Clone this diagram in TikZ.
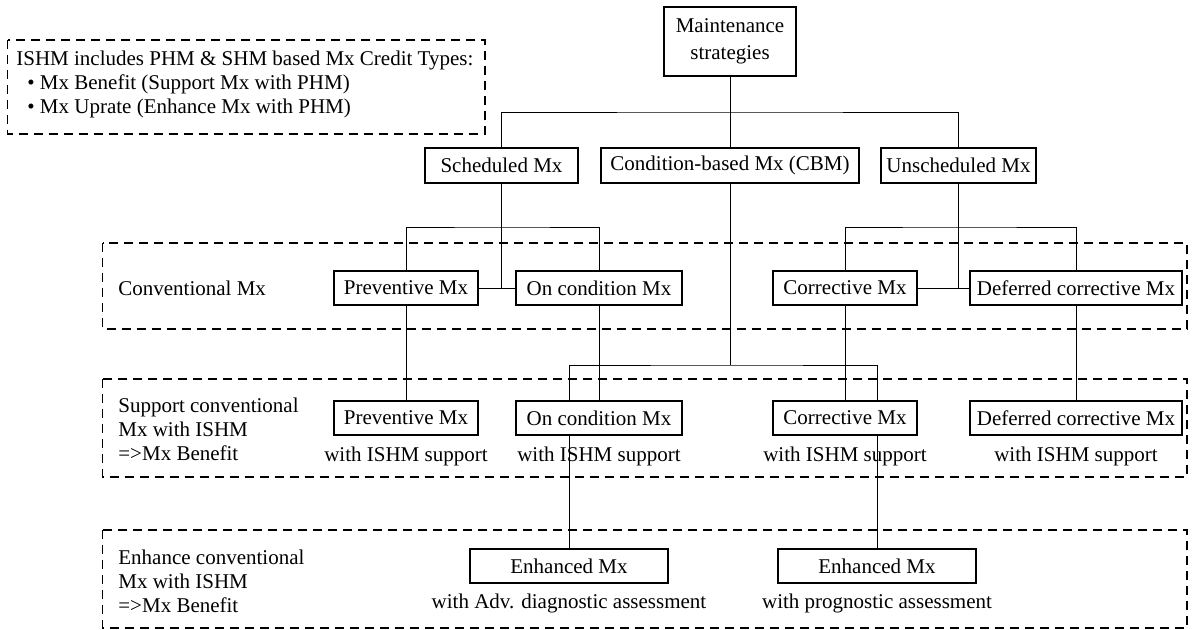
\documentclass[tikz,border=0pt]{standalone}
\usepackage{fontspec}
\setmainfont{Liberation Serif}
\usetikzlibrary{backgrounds}
\tikzset{
  box/.style={draw, line width=0.85pt, fill=white, inner sep=0pt, align=center,
              font=\fontsize{10.5}{13.5}\selectfont},
  txt/.style={inner sep=0pt, font=\fontsize{10.5}{12}\selectfont},
  lbl/.style={txt, anchor=west, align=left},
  link/.style={line width=0.85pt},
  group/.style={line width=0.75pt, dash pattern=on 4.5pt off 3pt}
}
\begin{document}
\begin{tikzpicture}[x=0.5pt,y=-0.5pt]
\useasboundingbox (0,0) rectangle (1196,630);

% dashed group frames
\draw[group] (7.7,40) rectangle (485,134);
\draw[group] (102.6,243) rectangle (1187,329);
\draw[group] (102.6,379) rectangle (1187,477);
\draw[group] (102.6,530) rectangle (1187,628);

% legend
\node[lbl, anchor=north west] (legend) at (16,51)
  {ISHM includes PHM \& SHM based Mx Credit Types:\\
   \hspace*{5.5pt}\textbullet\ Mx Benefit (Support Mx with PHM)\\
   \hspace*{5.5pt}\textbullet\ Mx Uprate (Enhance Mx with PHM)};

% row labels
\node[lbl] (lconv) at (118,288) {Conventional Mx};
\node[lbl] (lsup) at (118,429) {Support conventional\\Mx with ISHM\\=\textgreater Mx Benefit};
\node[lbl] (lenh) at (118,581) {Enhance conventional\\Mx with ISHM\\=\textgreater Mx Benefit};

% top level
\node[box, minimum width=66pt, minimum height=34.5pt] (ms) at (730,41.5) {Maintenance\\strategies};
\node[box, minimum width=76.5pt, minimum height=17.5pt] (sched) at (501.5,165.5) {Scheduled Mx};
\node[box, minimum width=129pt, minimum height=17.5pt] (cbm) at (730,165.5) {Condition-based Mx (CBM)};
\node[box, minimum width=77.5pt, minimum height=17.5pt] (unsched) at (958.5,165.5) {Unscheduled Mx};

% conventional maintenance
\node[box, minimum width=72pt, minimum height=17pt] (prev) at (406,288) {Preventive Mx};
\node[box, minimum width=83pt, minimum height=17pt] (oncond) at (599,288) {On condition Mx};
\node[box, minimum width=72pt, minimum height=17pt] (corr) at (845,288) {Corrective Mx};
\node[box, minimum width=106pt, minimum height=17pt] (def) at (1076,288) {Deferred corrective Mx};

% supported maintenance
\node[box, minimum width=72pt, minimum height=17pt] (prev2) at (406,418) {Preventive Mx};
\node[box, minimum width=83pt, minimum height=17pt] (oncond2) at (599,418) {On condition Mx};
\node[box, minimum width=72pt, minimum height=17pt] (corr2) at (845,418) {Corrective Mx};
\node[box, minimum width=106pt, minimum height=17pt] (def2) at (1076,418) {Deferred corrective Mx};
\node[txt] (sprev) at (406,456) {with ISHM support};
\node[txt] (soncond) at (599,456) {with ISHM support};
\node[txt] (scorr) at (845,456) {with ISHM support};
\node[txt] (sdef) at (1076,456) {with ISHM support};

% enhanced maintenance
\node[box, minimum width=99pt, minimum height=17pt] (enh1) at (569,566) {Enhanced Mx};
\node[box, minimum width=99pt, minimum height=17pt] (enh2) at (877,566) {Enhanced Mx};
\node[txt] (senh1) at (569,603) {with Adv. diagnostic assessment};
\node[txt] (senh2) at (877,603) {with prognostic assessment};

% junction points
\coordinate (j1) at (730,112);
\coordinate (j2) at (501.5,227);
\coordinate (j3) at (958.5,227);
\coordinate (j4) at (730,365);

\begin{scope}[on background layer, link]
  \draw (ms.south) -- (cbm.north);
  \draw (sched.north) |- (j1) -| (unsched.north);
  \draw (sched.south) -- (sched.south |- prev.east);
  \draw (prev.east) -- (oncond.west);
  \draw (prev.north) |- (j2) -| (oncond.north);
  \draw (unsched.south) -- (unsched.south |- corr.east);
  \draw (corr.east) -- (def.west);
  \draw (corr.north) |- (j3) -| (def.north);
  \draw (prev.south) -- (prev2.north);
  \draw (oncond.south) -- (oncond2.north);
  \draw (corr.south) -- (corr2.north);
  \draw (def.south) -- (def2.north);
  \draw (cbm.south) -- (j4);
  \draw (enh1.north) |- (j4) -| (enh2.north);
\end{scope}
\end{tikzpicture}
\end{document}
